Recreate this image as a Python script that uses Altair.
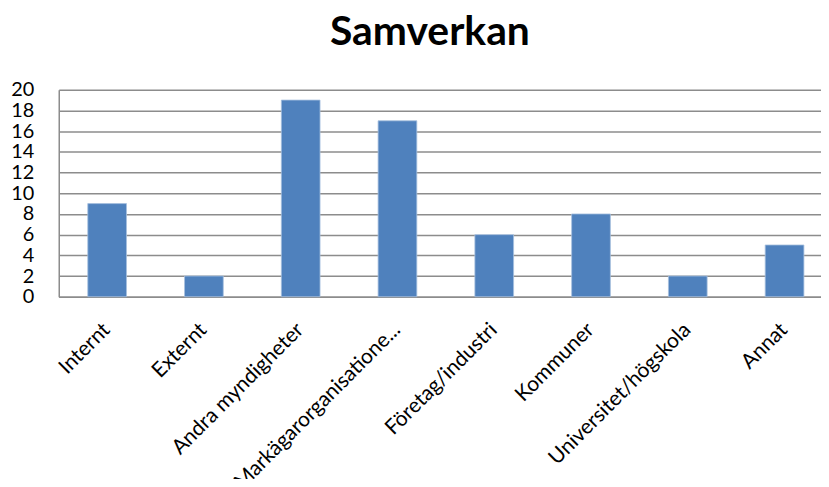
import altair as alt
import pandas as pd

categories = ["Internt", "Externt", "Andra myndigheter", "Markägarorganisationer",
              "Företag/industri", "Kommuner", "Universitet/högskola", "Annat"]
values = [9, 2, 19, 17, 6, 8, 2, 5]
y_ticks = [0, 2, 4, 6, 8, 10, 12, 14, 16, 18, 20]

df = pd.DataFrame({"kategori": categories, "antal": values})

FONT = "Lato"

chart = alt.Chart(df).mark_bar(
    color="#4F81BD", stroke="#A7C0DE", strokeWidth=0.8
).encode(
    x=alt.X("kategori:N", sort=categories,
            scale=alt.Scale(paddingInner=0.6, paddingOuter=0.3, range=[0, 778]),
            axis=alt.Axis(title=None, labelAngle=-45, labelFontSize=21, labelFont=FONT,
                          labelColor="#000000", labelLimit=400, ticks=False,
                          domainColor="#8C8C8C", domainWidth=1.5, labelPadding=22,
                          labelOffset=-8,
                          labelExpr="length(datum.label) > 21 ? substring(datum.label, 0, 21) + '...' : datum.label")),
    y=alt.Y("antal:Q", scale=alt.Scale(domain=[0, 20]),
            axis=alt.Axis(title=None, values=y_ticks, labelFontSize=20, labelFont=FONT,
                          labelColor="#000000", ticks=False, labelPadding=25,
                          labelOverlap=False,
                          grid=True, gridColor="#8C8C8C", gridWidth=1.5,
                          domainColor="#8C8C8C", domainWidth=1.5)),
).properties(
    width=766, height=208,
    autosize=alt.AutoSizeParams(type="none"),
    padding={"left": 51, "top": 81, "right": 0, "bottom": 182},
    title=alt.Title("Samverkan", fontSize=41, font=FONT, fontWeight="bold",
                    color="#000000", anchor="middle", dx=-10, offset=26),
).configure_view(stroke=None)

chart.save("out.html", embed_options={"renderer": "svg", "actions": False})
